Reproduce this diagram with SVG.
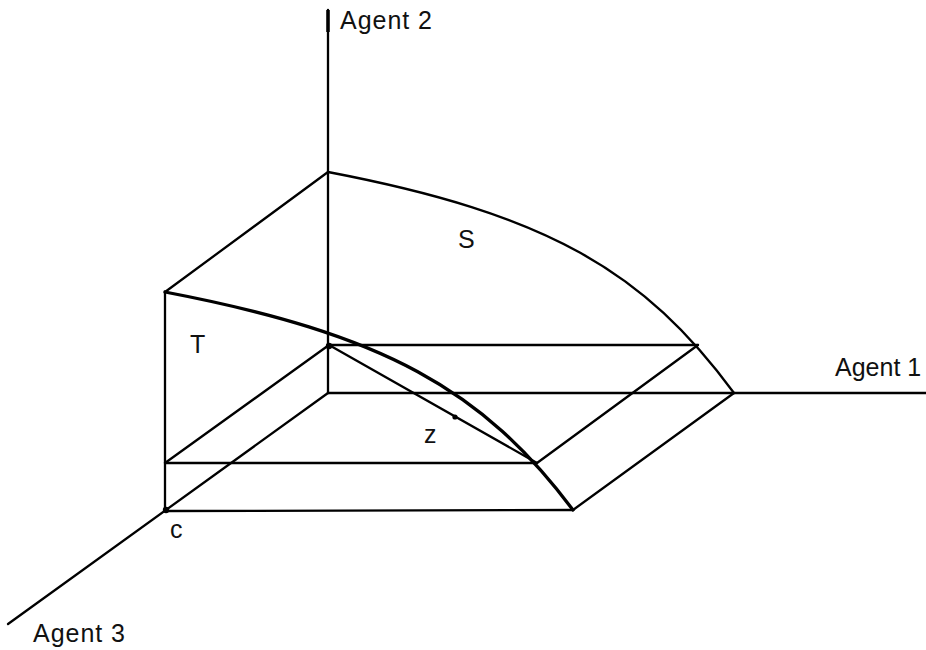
<svg xmlns="http://www.w3.org/2000/svg" width="926" height="650" viewBox="0 0 926 650">
<style>
.ln{stroke:#000;stroke-width:2.3;fill:none;stroke-linecap:round}
.thick{stroke:#000;stroke-width:3.3;fill:none;stroke-linecap:round}
.lbl{font-family:"Liberation Sans",Arial,sans-serif;font-size:25px;fill:#111}
</style>
<rect width="926" height="650" fill="#fff"/>
<g id="connectors">
<line class="ln" x1="328" y1="10" x2="328" y2="393"/>
<line x1="328" y1="10" x2="328" y2="32" stroke="#000" stroke-width="3.5"/>
<line class="ln" x1="328" y1="393" x2="926" y2="393"/>
<line class="ln" x1="328" y1="393" x2="8" y2="624"/>
<line class="ln" x1="165" y1="292" x2="328" y2="172"/>
<line class="ln" x1="165" y1="292" x2="165" y2="511"/>
<line class="ln" x1="165" y1="511" x2="573" y2="510"/>
<line class="ln" x1="573" y1="510" x2="734" y2="393"/>
<line class="ln" x1="329" y1="345" x2="698" y2="345"/>
<line class="ln" x1="698" y1="345" x2="537" y2="463"/>
<line class="ln" x1="165" y1="463" x2="537" y2="463"/>
<line class="ln" x1="329" y1="345" x2="165" y2="463"/>
<line class="ln" x1="329" y1="345" x2="537" y2="463"/>
<path class="ln" d="M328,172 C548,214 644,271 734,393"/>
<path class="thick" d="M165,292 C385,334 483,390 573,510"/>
<circle cx="329" cy="346" r="3.2" fill="#000"/>
<circle cx="166" cy="510" r="3.2" fill="#000"/>
<circle cx="455" cy="417" r="2.6" fill="#000"/>
</g>
<g id="label-agent2"><text class="lbl" x="340" y="29" textLength="92" lengthAdjust="spacing">Agent 2</text></g>
<g id="label-agent1"><text class="lbl" x="835" y="376">Agent 1</text></g>
<g id="label-agent3"><text class="lbl" x="33" y="642" textLength="92" lengthAdjust="spacing">Agent 3</text></g>
<g id="label-S"><text class="lbl" x="458" y="248">S</text></g>
<g id="label-T"><text class="lbl" x="190" y="353">T</text></g>
<g id="label-z"><text class="lbl" x="424" y="443">z</text></g>
<g id="label-c"><text class="lbl" x="170" y="538">c</text></g>
</svg>
